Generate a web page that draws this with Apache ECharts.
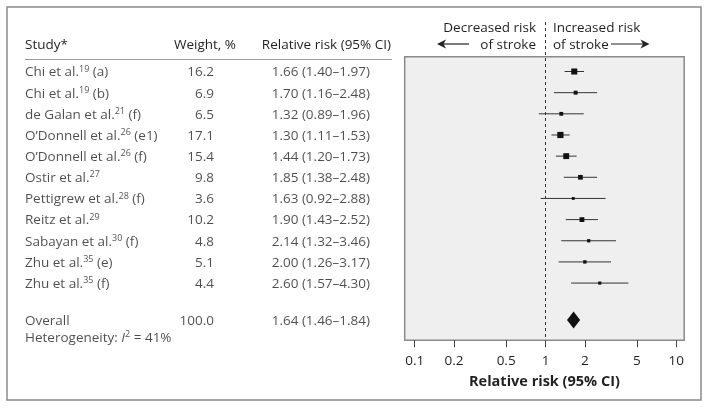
<!DOCTYPE html>
<html><head><meta charset="utf-8">
<script src="https://cdn.jsdelivr.net/npm/echarts@6/dist/echarts.min.js"></script>
<style>html,body{margin:0;padding:0;background:#fff}#c{width:709px;height:408px}</style>
</head><body><div id="c"></div>
<script>
// ---- data ----
const studies = ['Chi et al.', 'Chi et al.', 'de Galan et al.', 'O\u2019Donnell et al.', 'O\u2019Donnell et al.', 'Ostir et al.', 'Pettigrew et al.', 'Reitz et al.', 'Sabayan et al.', 'Zhu et al.', 'Zhu et al.'];
const refs = ['19', '19', '21', '26', '26', '27', '28', '29', '30', '35', '35'];
const tags = ['(a)', '(b)', '(f)', '(e1)', '(f)', '', '(f)', '', '(f)', '(e)', '(f)'];
const weights = [16.2, 6.9, 6.5, 17.1, 15.4, 9.8, 3.6, 10.2, 4.8, 5.1, 4.4];
const rr = [1.66, 1.70, 1.32, 1.30, 1.44, 1.85, 1.63, 1.90, 2.14, 2.00, 2.60];
const lower = [1.40, 1.16, 0.89, 1.11, 1.20, 1.38, 0.92, 1.43, 1.32, 1.26, 1.57];
const upper = [1.97, 2.48, 1.96, 1.53, 1.73, 2.48, 2.88, 2.52, 3.46, 3.17, 4.30];
const overallWeight = 100.0;
const overallRR = 1.64;
const overallLower = 1.46;
const overallUpper = 1.84;
const heterogeneityI2 = 41;
const xTicks = [0.1, 0.2, 0.5, 1, 2, 5, 10];
const rowPos = studies.map((_, i) => i + 1);
const overallPos = 12.75;
const hetPos = 13.55;

// ---- layout/style ----
const FONT = 'Open Sans';
const TXT = '#231f20';
const FS = 13.5;
const GRID = {left: 404.7, top: 56.7, width: 279.5, height: 283.5};
const colStudyX = 25, colWeightX = 214, colRRX = 370;

const fmtCI = (e, l, u) => e.toFixed(2) + ' (' + l.toFixed(2) + '\u2013' + u.toFixed(2) + ')';
const rich = {
  n: {fontFamily: FONT, fontSize: FS, color: TXT, lineHeight: 16, verticalAlign: 'bottom'},
  sup: {fontFamily: FONT, fontSize: 9, color: TXT, lineHeight: 16, verticalAlign: 'top', padding: [1, 0, 0, 0]},
  it: {fontFamily: FONT, fontSize: FS, color: TXT, fontStyle: 'italic', lineHeight: 16, verticalAlign: 'bottom'}
};

const chart = echarts.init(document.getElementById('c'), null, {renderer: 'canvas'});

function textSeries(id, data, align) {
  return {
    id: id, type: 'scatter', xAxisIndex: 1, yAxisIndex: 1, clip: false,
    symbolSize: 1, itemStyle: {color: 'rgba(0,0,0,0)'}, silent: true,
    data: data,
    label: {
      show: true, position: 'inside', align: align, verticalAlign: 'middle',
      fontFamily: FONT, fontSize: FS, color: TXT,
      formatter: p => p.data.label, rich: rich
    }
  };
}

const studyData = rowPos.map((y, i) => ({
  value: [colStudyX, y],
  label: '{n|' + studies[i] + '}{sup|' + refs[i] + '}' + (tags[i] ? '{n| ' + tags[i] + '}' : '')
}));
studyData.push({value: [colStudyX, overallPos], label: '{n|Overall}'});
studyData.push({value: [colStudyX, hetPos], label: '{n|Heterogeneity: }{it|I}{sup|2}{n| = ' + heterogeneityI2 + '%}'});

const weightData = rowPos.map((y, i) => ({value: [colWeightX, y], label: '{n|' + weights[i].toFixed(1) + '}'}));
weightData.push({value: [colWeightX, overallPos], label: '{n|' + overallWeight.toFixed(1) + '}'});

const rrData = rowPos.map((y, i) => ({value: [colRRX, y], label: '{n|' + fmtCI(rr[i], lower[i], upper[i]) + '}'}));
rrData.push({value: [colRRX, overallPos], label: '{n|' + fmtCI(overallRR, overallLower, overallUpper) + '}'});

const option = {
  animation: false,
  backgroundColor: '#ffffff',
  textStyle: {fontFamily: FONT},
  grid: [
    Object.assign({show: true, backgroundColor: '#efefef', borderColor: '#8a8a8a', borderWidth: 1.5}, GRID),
    {left: 0, top: GRID.top, width: 709, height: GRID.height}
  ],
  xAxis: [
    {
      gridIndex: 0, type: 'log', logBase: 10, min: 0.0838, max: 11.5,
      axisLine: {show: false},
      axisTick: {show: true, customValues: xTicks, length: 7, lineStyle: {color: '#444', width: 1}},
      axisLabel: {customValues: xTicks, fontFamily: FONT, fontSize: 13.5, color: TXT, margin: 14,
        formatter: v => String(+Number(v).toPrecision(3))},
      splitLine: {show: false}, minorTick: {show: false},
      name: 'Relative risk (95% CI)', nameLocation: 'middle', nameGap: 34,
      nameTextStyle: {fontFamily: FONT, fontSize: 14.5, fontWeight: 'bold', color: TXT}
    },
    {gridIndex: 1, type: 'value', min: 0, max: 709, show: false}
  ],
  yAxis: [
    {gridIndex: 0, type: 'value', inverse: true, min: 0.3, max: 13.7, show: false},
    {gridIndex: 1, type: 'value', inverse: true, min: 0.3, max: 13.7, show: false}
  ],
  series: [
    {
      type: 'custom', xAxisIndex: 0, yAxisIndex: 0, z: 5,
      encode: {x: [0, 1, 2], y: 3},
      data: rowPos.map((y, i) => [rr[i], lower[i], upper[i], y, weights[i]]),
      renderItem: (params, api) => {
        const y = api.value(3);
        const p0 = api.coord([api.value(1), y]);
        const p1 = api.coord([api.value(2), y]);
        const pc = api.coord([api.value(0), y]);
        const s = 1.5 * Math.sqrt(api.value(4));
        return {type: 'group', children: [
          {type: 'line', shape: {x1: p0[0], y1: p0[1], x2: p1[0], y2: p1[1]}, style: {stroke: '#333', lineWidth: 1}},
          {type: 'rect', shape: {x: pc[0] - s / 2, y: pc[1] - s / 2, width: s, height: s}, style: {fill: '#111'}}
        ]};
      }
    },
    {
      type: 'custom', xAxisIndex: 0, yAxisIndex: 0, z: 5,
      encode: {x: [0, 1, 2], y: 3},
      data: [[overallRR, overallLower, overallUpper, overallPos]],
      renderItem: (params, api) => {
        const y = api.value(3);
        const pl = api.coord([api.value(1), y]);
        const pu = api.coord([api.value(2), y]);
        const pc = api.coord([api.value(0), y]);
        const h = 8.5;
        return {type: 'polygon', shape: {points: [[pl[0], pl[1]], [pc[0], pc[1] - h], [pu[0], pu[1]], [pc[0], pc[1] + h]]}, style: {fill: '#111'}};
      }
    },
    textSeries('study', studyData, 'left'),
    textSeries('weight', weightData, 'right'),
    textSeries('rr', rrData, 'right')
  ]
};
chart.setOption(option);

// Reference line and header decorations
const x1 = chart.convertToPixel({xAxisIndex: 0}, 1);
const tStyle = (extra) => Object.assign({fontFamily: FONT, fontSize: FS, fill: TXT}, extra);
chart.setOption({
  graphic: [
    {type: 'rect', z: 0, shape: {x: 7, y: 7, width: 694, height: 393}, style: {fill: 'none', stroke: '#8a8a8a', lineWidth: 1.5}, silent: true},
    {type: 'line', z: 3, shape: {x1: x1, y1: 22, x2: x1, y2: GRID.top + GRID.height}, style: {stroke: '#333', lineWidth: 1, lineDash: [3, 3]}, silent: true},
    {type: 'text', style: tStyle({text: 'Study*', x: 25, y: 45, textAlign: 'left', textVerticalAlign: 'middle'})},
    {type: 'text', style: tStyle({text: 'Weight, %', x: 236, y: 45, textAlign: 'right', textVerticalAlign: 'middle'})},
    {type: 'text', style: tStyle({text: 'Relative risk (95% CI)', x: 391, y: 45, textAlign: 'right', textVerticalAlign: 'middle'})},
    {type: 'line', shape: {x1: 25, y1: 59.5, x2: 392, y2: 59.5}, style: {stroke: '#9a9a9a', lineWidth: 1}, silent: true},
    {type: 'text', style: tStyle({text: 'Decreased risk', x: x1 - 9.5, y: 28.5, textAlign: 'right', textVerticalAlign: 'middle'})},
    {type: 'text', style: tStyle({text: 'of stroke', x: x1 - 9.5, y: 45, textAlign: 'right', textVerticalAlign: 'middle'})},
    {type: 'text', style: tStyle({text: 'Increased risk', x: x1 + 7.5, y: 28.5, textAlign: 'left', textVerticalAlign: 'middle'})},
    {type: 'text', style: tStyle({text: 'of stroke', x: x1 + 7.5, y: 45, textAlign: 'left', textVerticalAlign: 'middle'})},
    {type: 'line', shape: {x1: 441, y1: 44, x2: 469, y2: 44}, style: {stroke: '#222', lineWidth: 1.2}, silent: true},
    {type: 'polygon', shape: {points: [[437, 44], [446, 39.5], [443.5, 44], [446, 48.5]]}, style: {fill: '#222'}, silent: true},
    {type: 'line', shape: {x1: 611, y1: 44, x2: 645, y2: 44}, style: {stroke: '#222', lineWidth: 1.2}, silent: true},
    {type: 'polygon', shape: {points: [[649.5, 44], [640.5, 39.5], [643, 44], [640.5, 48.5]]}, style: {fill: '#222'}, silent: true}
  ]
});
</script>
</body></html>
